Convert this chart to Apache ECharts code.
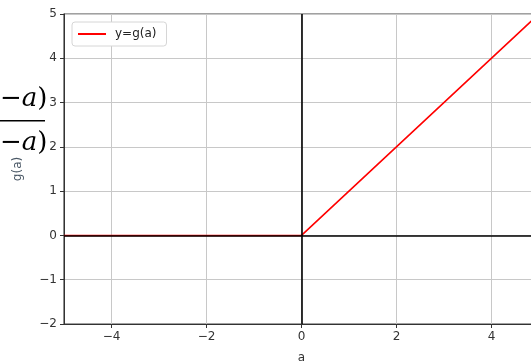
<!DOCTYPE html>
<html>
<head>
<meta charset="utf-8">
<script src="https://cdn.jsdelivr.net/npm/echarts@6/dist/echarts.min.js"></script>
<style>
  html, body { margin: 0; padding: 0; background: #fff; }
  #chart { width: 531px; height: 363px; }
</style>
</head>
<body>
<div id="chart"></div>
<script>
// g(a) = max(0, a), sampled at the corners of the curve
const aValues = [-5, 0, 5];
const gValues = [0, 0, 5];
const xTicks = [-4, -2, 0, 2, 4];
const seriesName = "y=g(a)";

const LINE_COLOR = "#ff0000";
const FONT = "DejaVu Sans";

// matplotlib style minus sign
function fmt(v) {
  return String(v).replace("-", "\u2212");
}

// cropped piece of a LaTeX fraction left of the axis
const fracRich = {
  m: { font: "26px 'DejaVu Serif'", fill: "#000" },
  a: { font: "italic 26px 'DejaVu Serif'", fill: "#000" },
  p: { font: "26px 'DejaVu Serif'", fill: "#000" },
};
const fracText = "{m|\u2212}{a|a}{p|)}";

const chart = echarts.init(document.getElementById("chart"));

const option = {
  animation: false,
  backgroundColor: "#fff",
  textStyle: { fontFamily: FONT },
  grid: {
    left: 64,
    right: -8,
    top: 14,
    bottom: 39,
    outerBoundsMode: "none",
    show: true,
    borderColor: "#444",
    borderWidth: 1.2,
  },
  legend: {
    left: 72,
    top: 22,
    data: [seriesName],
    icon: "rect",
    itemWidth: 28,
    itemHeight: 2,
    itemGap: 10,
    padding: [6, 10, 6, 6],
    borderColor: "#d6d6d6",
    borderWidth: 1,
    borderRadius: 3,
    backgroundColor: "#fff",
    textStyle: { fontSize: 12, color: "#222", fontFamily: FONT, padding: [0, 0, 0, 4] },
  },
  xAxis: {
    type: "value",
    min: -5,
    max: 5,
    name: "a",
    nameLocation: "middle",
    nameGap: 28,
    nameTextStyle: { fontSize: 12, color: "#333" },
    axisLine: { show: true, onZero: false, lineStyle: { color: "#333", width: 1 } },
    axisTick: { show: true, length: 4, customValues: xTicks, lineStyle: { color: "#333" } },
    axisLabel: { customValues: xTicks, fontSize: 12, color: "#333", margin: 7, formatter: fmt },
    splitLine: { show: true, lineStyle: { color: "#c8c8c8", width: 1 } },
  },
  yAxis: {
    type: "value",
    min: -2,
    max: 5,
    interval: 1,
    name: "g(a)",
    nameLocation: "middle",
    nameGap: 40,
    nameTextStyle: { fontSize: 12, color: "#4a5866" },
    axisLine: { show: true, onZero: false, lineStyle: { color: "#333", width: 1 } },
    axisTick: { show: true, length: 4, lineStyle: { color: "#333" } },
    axisLabel: { fontSize: 12, color: "#333", margin: 7, formatter: fmt },
    splitLine: { show: true, lineStyle: { color: "#c8c8c8", width: 1 } },
  },
  series: [
    {
      name: seriesName,
      type: "line",
      data: aValues.map((a, i) => [a, gValues[i]]),
      symbol: "none",
      lineStyle: { color: LINE_COLOR, width: 1.6 },
      itemStyle: { color: LINE_COLOR },
      z: 2,
    },
    {
      // black reference lines through the origin
      name: "axes",
      type: "line",
      data: [],
      silent: true,
      z: 3,
      markLine: {
        silent: true,
        symbol: "none",
        label: { show: false },
        lineStyle: { color: "#000", width: 1.6, type: "solid" },
        data: [{ xAxis: 0 }, { yAxis: 0 }],
      },
    },
  ],
  graphic: [
    {
      type: "text",
      left: 0,
      top: 86,
      style: { text: fracText, rich: fracRich },
    },
    {
      type: "rect",
      shape: { x: 0, y: 120, width: 45, height: 1.6 },
      style: { fill: "#000" },
    },
    {
      type: "text",
      left: 0,
      top: 130,
      style: { text: fracText, rich: fracRich },
    },
  ],
};

chart.setOption(option);
</script>
</body>
</html>
